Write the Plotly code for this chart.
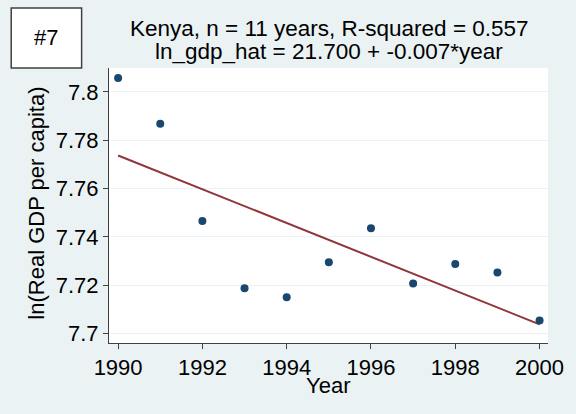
import numpy as np
import plotly.graph_objects as go

years = [1990, 1991, 1992, 1993, 1994, 1995, 1996, 1997, 1998, 1999, 2000]
ln_gdp = [7.8058, 7.7868, 7.7466, 7.7188, 7.7150, 7.7295, 7.7436, 7.7207, 7.7288, 7.7253, 7.7054]
x_ticks = [1990, 1992, 1994, 1996, 1998, 2000]
y_ticks = [7.70, 7.72, 7.74, 7.76, 7.78, 7.80]
y_tick_text = ["7.7", "7.72", "7.74", "7.76", "7.78", "7.8"]
title_1 = "Kenya, n = 11 years, R-squared = 0.557"
title_2 = "ln_gdp_hat = 21.700 + -0.007*year"
panel_label = "#7"

slope, intercept = np.polyfit(years, ln_gdp, 1)
fit_x = [years[0], years[-1]]
fit_y = [intercept + slope * v for v in fit_x]

W, H = 576, 414
L, R, T, B = 109, 18, 68, 71
PW, PH = W - L - R, H - T - B


def px(x):
    return (x - L) / PW


def py(y):
    return (H - B - y) / PH


BG = "#EAF2F3"
AX = "#404040"
FONT = "Liberation Sans, Arial, sans-serif"

fig = go.Figure()
fig.add_trace(go.Scatter(x=fit_x, y=fit_y, mode="lines",
                         line=dict(color="#90353b", width=2), showlegend=False))
fig.add_trace(go.Scatter(x=years, y=ln_gdp, mode="markers",
                         marker=dict(color="#1a476f", size=8), showlegend=False))

fig.update_layout(
    width=W, height=H,
    margin=dict(l=L, r=R, t=T, b=B),
    paper_bgcolor=BG, plot_bgcolor="white",
    font=dict(family=FONT, size=22, color="black"),
    xaxis=dict(range=[1989.784, 2000.2], tickvals=x_ticks, showgrid=False,
               showline=True, linecolor=AX, linewidth=1,
               ticks="outside", ticklen=5, tickcolor=AX,
               zeroline=False, tickfont=dict(size=22)),
    yaxis=dict(range=[7.6961, 7.8099], tickvals=y_ticks, ticktext=y_tick_text,
               showgrid=True, gridcolor=BG, gridwidth=1,
               showline=True, linecolor=AX, linewidth=1,
               ticks="outside", ticklen=5, tickcolor=AX,
               zeroline=False, tickfont=dict(size=22)),
    shapes=[dict(type="rect", xref="paper", yref="paper",
                 x0=px(9), x1=px(81), y0=py(8), y1=py(68),
                 line=dict(color=AX, width=1.5), fillcolor="white")],
    annotations=[
        dict(text=panel_label, xref="paper", yref="paper", x=px(45), y=py(38),
             showarrow=False, xanchor="center", yanchor="middle",
             font=dict(size=22)),
        dict(text=title_1, xref="paper", yref="paper", x=px(335), y=py(29),
             showarrow=False, xanchor="center", yanchor="middle",
             font=dict(size=22.5)),
        dict(text=title_2, xref="paper", yref="paper", x=px(334), y=py(51),
             showarrow=False, xanchor="center", yanchor="middle",
             font=dict(size=22.5)),
        dict(text="Year", xref="paper", yref="paper", x=px(333), y=py(385),
             showarrow=False, xanchor="center", yanchor="middle",
             font=dict(size=22)),
        dict(text="ln(Real GDP per capita)", xref="paper", yref="paper",
             x=px(34), y=py(203), textangle=-90,
             showarrow=False, xanchor="center", yanchor="middle",
             font=dict(size=22)),
    ],
)

fig.write_html("out.html", config={"displayModeBar": False},
               post_script="document.body.style.margin='0';")
